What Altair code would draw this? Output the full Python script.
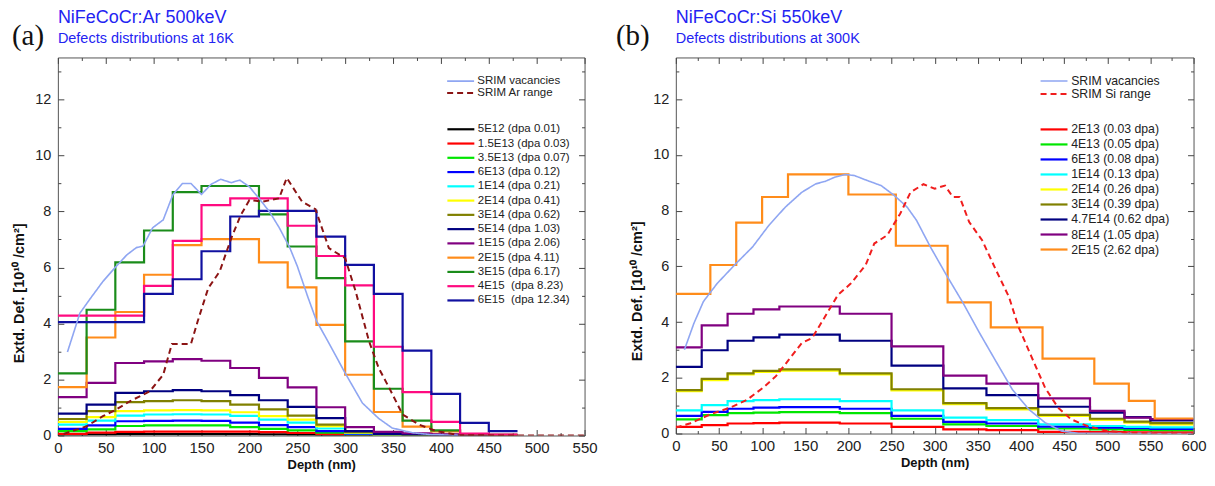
import altair as alt
import pandas as pd

FONT = "Liberation Sans"
TITLE_BLUE = "#2323f2"

# ---------------- panel (a): NiFeCoCr:Ar 500keV, 16K ----------------
a_edges = [0, 30, 60, 90, 120, 150, 180, 210, 240, 270, 300, 330, 360, 390, 420, 450, 480]
a_labels = ["5E12 (dpa 0.01)", "1.5E13 (dpa 0.03)", "3.5E13 (dpa 0.07)", "6E13 (dpa 0.12)",
            "1E14 (dpa 0.21)", "2E14 (dpa 0.41)", "3E14 (dpa 0.62)", "5E14 (dpa 1.03)",
            "1E15 (dpa 2.06)", "2E15 (dpa 4.11)", "3E15 (dpa 6.17)", "4E15\u00a0 (dpa 8.23)",
            "6E15\u00a0 (dpa 12.34)"]
a_colors = ["#000000", "#ff0000", "#00e600", "#0000ff", "#00ffff", "#ffff00", "#808000",
            "#000080", "#800080", "#ff8c1a", "#1a8c1a", "#ff0a80", "#1010a0"]
a_5e12 = [0.03, 0.04, 0.05, 0.05, 0.05, 0.05, 0.05, 0.04, 0.03, 0.02, 0.01, 0.01, 0.01, 0.01, 0.01, 0.01]
a_15e13 = [0.06, 0.10, 0.13, 0.14, 0.14, 0.14, 0.14, 0.12, 0.09, 0.05, 0.02, 0.01, 0.01, 0.01, 0.01, 0.01]
a_35e13 = [0.16, 0.22, 0.34, 0.36, 0.36, 0.36, 0.30, 0.24, 0.18, 0.10, 0.03, 0.01, 0.01, 0.01, 0.01, 0.01]
a_6e13 = [0.24, 0.36, 0.51, 0.52, 0.53, 0.52, 0.46, 0.37, 0.30, 0.16, 0.05, 0.02, 0.01, 0.01, 0.01, 0.01]
a_1e14 = [0.39, 0.53, 0.71, 0.75, 0.76, 0.75, 0.70, 0.57, 0.46, 0.25, 0.08, 0.03, 0.02, 0.01, 0.01, 0.01]
a_2e14 = [0.49, 0.66, 0.87, 0.90, 0.91, 0.90, 0.83, 0.69, 0.57, 0.33, 0.10, 0.03, 0.02, 0.01, 0.01, 0.01]
a_3e14 = [0.59, 0.87, 1.19, 1.23, 1.26, 1.23, 1.10, 0.93, 0.71, 0.39, 0.12, 0.04, 0.02, 0.01, 0.01, 0.01]
a_5e14 = [0.78, 1.10, 1.52, 1.58, 1.62, 1.58, 1.44, 1.26, 1.02, 0.62, 0.16, 0.06, 0.03, 0.02, 0.01, 0.01]
a_1e15 = [1.37, 1.88, 2.59, 2.65, 2.73, 2.67, 2.41, 2.06, 1.72, 1.01, 0.30, 0.13, 0.08, 0.04, 0.02, 0.01]
a_2e15 = [1.73, 3.50, 4.41, 5.74, 6.80, 7.01, 7.01, 6.18, 5.29, 3.95, 2.17, 0.84, 0.32, 0.15, 0.04, 0.02]
a_3e15 = [2.22, 4.49, 6.18, 7.32, 8.69, 8.91, 8.91, 7.90, 6.75, 5.62, 3.36, 1.67, 0.53, 0.18, 0.05, 0.02]
a_4e15 = [4.28, 4.28, 4.28, 5.34, 6.95, 8.23, 8.47, 8.47, 7.49, 6.41, 5.36, 3.17, 1.55, 0.49, 0.07, 0.03]
a_6e15 = [4.05, 4.05, 4.05, 5.06, 5.58, 6.58, 7.82, 8.02, 8.02, 7.10, 6.09, 5.06, 3.03, 1.49, 0.45, 0.16]
a_values = [a_5e12, a_15e13, a_35e13, a_6e13, a_1e14, a_2e14, a_3e14, a_5e14,
            a_1e15, a_2e15, a_3e15, a_4e15, a_6e15]

a_srim_labels = ["SRIM vacancies", "SRIM Ar range"]
a_srim_colors = ["#8fa6f2", "#8b1414"]
a_vac_x = [10, 23, 33, 47, 59, 72, 82, 89, 99, 110, 120, 130, 139, 150, 160, 170, 181, 190, 200,
           210, 221, 231, 242, 250, 261, 270, 283, 300, 318, 335, 349, 370, 390, 420]
a_vac_y = [2.98, 4.37, 4.85, 5.50, 5.97, 6.45, 6.71, 6.77, 7.42, 7.70, 8.59, 9.00, 9.00, 8.61, 8.97,
           9.15, 9.03, 9.12, 8.88, 8.47, 7.99, 7.43, 6.72, 6.05, 4.95, 4.10, 3.30, 2.23, 1.16, 0.61,
           0.27, 0.10, 0.03, 0.01]
a_rng_x = [6, 30, 47, 61, 75, 96, 110, 119, 139, 146, 157, 169, 181, 191, 200, 214, 231, 239, 255,
           269, 283, 300, 311, 325, 335, 346, 360, 377, 395, 419, 480, 550]
a_rng_y = [0.06, 0.33, 0.69, 0.93, 1.22, 1.58, 2.17, 3.27, 3.27, 4.08, 5.26, 5.86, 7.04, 7.87, 8.41,
           8.35, 8.47, 9.20, 8.35, 8.08, 6.69, 6.33, 5.14, 3.36, 2.41, 1.70, 0.75, 0.39, 0.16, 0.01,
           0.0, 0.0]

# ---------------- panel (b): NiFeCoCr:Si 550keV, 300K ----------------
b_edges = [0, 30, 60, 90, 120, 190, 250, 310, 360, 420, 480, 520, 550, 600]
b_edges_2e15 = [0, 40, 70, 100, 130, 200, 255, 315, 365, 425, 485, 525, 555, 600]
b_labels = ["2E13 (0.03 dpa)", "4E13 (0.05 dpa)", "6E13 (0.08 dpa)", "1E14 (0.13 dpa)",
            "2E14 (0.26 dpa)", "3E14 (0.39 dpa)", "4.7E14 (0.62 dpa)", "8E14 (1.05 dpa)",
            "2E15 (2.62 dpa)"]
b_colors = ["#ff0000", "#00e600", "#0000ff", "#00ffff", "#ffff00", "#808000", "#000080",
            "#800080", "#ff8c1a"]
b_2e13 = [0.24, 0.30, 0.36, 0.37, 0.39, 0.36, 0.24, 0.15, 0.12, 0.06, 0.05, 0.04, 0.04]
b_4e13 = [0.51, 0.66, 0.73, 0.75, 0.77, 0.73, 0.53, 0.33, 0.27, 0.18, 0.15, 0.13, 0.12]
b_6e13 = [0.63, 0.78, 0.89, 0.93, 0.95, 0.89, 0.63, 0.42, 0.36, 0.25, 0.21, 0.19, 0.17]
b_1e14 = [0.83, 1.02, 1.16, 1.20, 1.23, 1.16, 0.83, 0.57, 0.48, 0.33, 0.27, 0.24, 0.22]
b_2e14 = [1.52, 1.92, 2.12, 2.21, 2.26, 2.12, 1.55, 1.05, 0.87, 0.63, 0.49, 0.39, 0.33]
b_3e14 = [1.56, 1.96, 2.16, 2.25, 2.30, 2.16, 1.59, 1.09, 0.91, 0.67, 0.53, 0.43, 0.37]
b_47e14 = [2.39, 2.99, 3.33, 3.45, 3.55, 3.33, 2.44, 1.62, 1.38, 0.96, 0.75, 0.59, 0.47]
b_8e14 = [3.09, 3.88, 4.30, 4.46, 4.56, 4.30, 3.13, 2.08, 1.79, 1.26, 0.81, 0.57, 0.52]
b_2e15 = [5.01, 6.05, 7.57, 8.49, 9.30, 8.58, 6.74, 4.71, 3.81, 2.69, 1.79, 1.17, 0.54]
b_values = [b_2e13, b_4e13, b_6e13, b_1e14, b_2e14, b_3e14, b_47e14, b_8e14, b_2e15]
b_series_edges = [b_edges] * 8 + [b_edges_2e15]

b_srim_labels = ["SRIM vacancies", "SRIM Si range"]
b_srim_colors = ["#8fa6f2", "#f01e1e"]
b_vac_x = [10, 21, 32, 48, 70, 89, 108, 127, 146, 162, 173, 184, 196, 207, 222, 238, 253, 268, 279,
           295, 313, 333, 352, 371, 390, 409, 428, 447, 466, 600]
b_vac_y = [3.01, 3.96, 4.74, 5.39, 6.11, 6.70, 7.48, 8.13, 8.66, 8.96, 9.05, 9.20, 9.30, 9.26, 9.08,
           8.90, 8.55, 8.13, 7.65, 6.70, 5.72, 4.68, 3.61, 2.59, 1.58, 0.87, 0.39, 0.09, 0.01, 0.0]
b_rng_x = [0, 17, 40, 63, 82, 101, 116, 131, 146, 158, 173, 188, 203, 220, 230, 245, 260, 272, 287,
           300, 312, 321, 329, 340, 355, 371, 386, 397, 412, 428, 443, 458, 477, 500, 520, 560, 600]
b_rng_y = [0.21, 0.37, 0.69, 0.93, 1.20, 1.64, 2.06, 2.65, 3.25, 3.43, 4.20, 4.98, 5.39, 6.05, 6.82,
           7.12, 7.89, 8.66, 8.95, 8.79, 8.90, 8.49, 8.49, 7.59, 6.94, 5.87, 4.91, 3.84, 2.77, 1.64,
           0.93, 0.51, 0.27, 0.09, 0.04, 0.0, 0.0]


def step_frame(edges_list, values_list, labels):
    rows = []
    for edges, vals, lab in zip(edges_list, values_list, labels):
        ys = list(vals) + [vals[-1]]
        for x, y in zip(edges, ys):
            rows.append({"depth": x, "value": y, "series": lab})
    return pd.DataFrame(rows)


def curve_frame(xs_list, ys_list, labels):
    rows = []
    for xs, ys, lab in zip(xs_list, ys_list, labels):
        for x, y in zip(xs, ys):
            rows.append({"depth": x, "value": y, "series": lab})
    return pd.DataFrame(rows)


def tick_dash(major):
    return {"condition": {"test": f"datum.value % {major} !== 0", "value": [0, 3, 3, 0]},
            "value": []}


def legend(pos, font, pad, stroke):
    return alt.Legend(orient="none", legendX=pos[0], legendY=pos[1], title=None,
                      symbolType="M-1,0H5", symbolSize=81, symbolStrokeWidth=stroke,
                      labelFont=FONT, labelFontSize=font, labelColor="#222",
                      labelOffset=20, rowPadding=pad, padding=0, labelLimit=300)


def make_panel(dose_df, dose_labels, dose_colors, srim_df, srim_labels, srim_colors,
               xmax, width, height, title, subtitle, tag, tag_x,
               dose_leg, srim_leg, leg_font, dose_pad, srim_pad, ytitle_y):
    x_vals = list(range(0, xmax + 1, 25))
    y_vals = list(range(0, 14))
    xscale = alt.Scale(domain=[0, xmax], nice=False, zero=False)
    yscale = alt.Scale(domain=[0, 13.5], nice=False)

    common = dict(tickSize=6, tickColor="#444", tickWidth=1, offset=-6, domain=False,
                  grid=False, minExtent=0)

    x_bottom = alt.Axis(orient="bottom", values=x_vals, title="Depth (nm)",
                        labelExpr="datum.value % 50 === 0 ? datum.label : ''",
                        labelFont=FONT, labelFontSize=15, labelColor="#222", labelPadding=5,
                        labelFlush=False, labelOverlap=False,
                        titleFont=FONT, titleFontSize=13, titleFontWeight="bold",
                        titleColor="#111", titlePadding=3, tickDash=tick_dash(50), **common)
    y_left = alt.Axis(orient="left", values=y_vals, title="Extd. Def.  [10\u00b9\u2070 /cm\u00b2]",
                      labelExpr="datum.value % 2 === 0 ? datum.label : ''",
                      labelFont=FONT, labelFontSize=14.5, labelColor="#222", labelPadding=7,
                      labelOverlap=False, titleY=ytitle_y,
                      titleFont=FONT, titleFontSize=14.5, titleFontWeight="bold",
                      titleColor="#111", titlePadding=8, tickDash=tick_dash(2), **common)
    x_top = alt.Axis(orient="top", values=x_vals, labels=False, title=None,
                     tickDash=tick_dash(50), maxExtent=0, **common)
    y_right = alt.Axis(orient="right", values=y_vals, labels=False, title=None,
                       tickDash=tick_dash(2), maxExtent=0, **common)

    doses = alt.Chart(dose_df).mark_line(interpolate="step-after", strokeWidth=2.2, clip=True).encode(
        x=alt.X("depth:Q", scale=xscale, axis=x_bottom),
        y=alt.Y("value:Q", scale=yscale, axis=y_left),
        color=alt.Color("series:N", scale=alt.Scale(domain=dose_labels, range=dose_colors),
                        sort=dose_labels, legend=legend(dose_leg, leg_font, dose_pad, 2.2)),
    )

    srim_leg_obj = legend(srim_leg, leg_font, srim_pad, 2)
    srim = alt.Chart(srim_df).mark_line(clip=True).encode(
        x=alt.X("depth:Q", scale=xscale, axis=x_top),
        y=alt.Y("value:Q", scale=yscale, axis=y_right),
        color=alt.Color("series:N", scale=alt.Scale(domain=srim_labels, range=srim_colors),
                        sort=srim_labels, legend=srim_leg_obj),
        strokeDash=alt.StrokeDash("series:N", sort=srim_labels,
                                  scale=alt.Scale(domain=srim_labels, range=[[1, 0], [6, 4]]),
                                  legend=srim_leg_obj),
        strokeWidth=alt.StrokeWidth("series:O", sort=srim_labels,
                                    scale=alt.Scale(domain=srim_labels, range=[1.6, 2.0]),
                                    legend=None),
    )

    tag_df = pd.DataFrame({"t": [tag]})
    tag_mark = alt.Chart(tag_df).mark_text(font="Liberation Serif", fontSize=29, align="left",
                                           baseline="alphabetic", color="#111").encode(
        x=alt.value(tag_x), y=alt.value(-12), text="t:N")

    return alt.layer(doses, srim, tag_mark).resolve_scale(
        color="independent", strokeDash="independent", strokeWidth="independent"
    ).resolve_axis(x="independent", y="independent").properties(
        width=width, height=height,
        title=alt.TitleParams(text=title, subtitle=subtitle, anchor="start", frame="group",
                              font=FONT, fontSize=18, fontWeight="normal", color=TITLE_BLUE,
                              subtitleFont=FONT, subtitleFontSize=14.5, subtitleColor=TITLE_BLUE,
                              subtitlePadding=5, offset=-23),
    )


a_dose_df = step_frame([a_edges] * len(a_values), a_values, a_labels)
a_srim_df = curve_frame([a_vac_x, a_rng_x], [a_vac_y, a_rng_y], a_srim_labels)
b_dose_df = step_frame(b_series_edges, b_values, b_labels)
b_srim_df = curve_frame([b_vac_x, b_rng_x], [b_vac_y, b_rng_y], b_srim_labels)

panel_a = make_panel(a_dose_df, a_labels, a_colors, a_srim_df, a_srim_labels, a_srim_colors,
                     550, 528, 379, "NiFeCoCr:Ar 500keV", "Defects distributions at 16K",
                     "(a)", -46, (389, 66), (389, 18), 11.5, 2.3, -1.9, 236)
panel_b = make_panel(b_dose_df, b_labels, b_colors, b_srim_df, b_srim_labels, b_srim_colors,
                     600, 519, 377, "NiFeCoCr:Si 550keV", "Defects distributions at 300K",
                     "(b)", -60, (364, 66), (364, 17.5), 12.3, 2.05, -0.1, 234)

chart = alt.hconcat(panel_a, panel_b, spacing=16.5).resolve_scale(
    color="independent", strokeDash="independent", strokeWidth="independent"
).configure(
    padding={"left": 3, "top": 0, "right": 0, "bottom": 0}, background="white"
).configure_view(stroke="#555", strokeWidth=1)

chart.save("out.html", embed_options={"renderer": "svg", "actions": False})
